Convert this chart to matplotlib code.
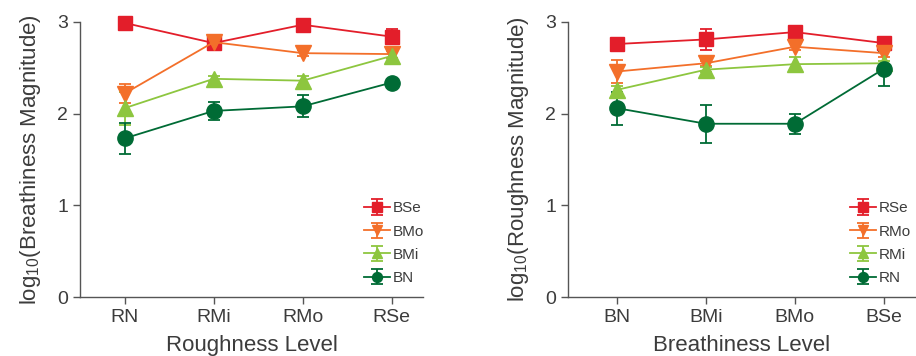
import matplotlib
matplotlib.use("Agg")
import matplotlib.pyplot as plt

plt.rcParams["font.family"] = ["Liberation Sans", "DejaVu Sans"]
plt.rcParams["mathtext.fontset"] = "custom"
plt.rcParams["mathtext.rm"] = "Liberation Sans"
plt.rcParams["mathtext.it"] = "Liberation Sans"
plt.rcParams["mathtext.default"] = "regular"

# Left panel: breathiness magnitude vs roughness level
left_cats = ["RN", "RMi", "RMo", "RSe"]
left_series = ["BSe", "BMo", "BMi", "BN"]
left_vals = {
    "BSe": [2.99, 2.77, 2.97, 2.84],
    "BMo": [2.22, 2.78, 2.66, 2.65],
    "BMi": [2.06, 2.38, 2.36, 2.63],
    "BN":  [1.73, 2.03, 2.08, 2.34],
}
left_errs = {
    "BSe": [0.04, 0.05, 0.04, 0.08],
    "BMo": [0.10, 0.06, 0.03, 0.04],
    "BMi": [0.18, 0.03, 0.05, 0.05],
    "BN":  [0.17, 0.10, 0.12, 0.02],
}

# Right panel: roughness magnitude vs breathiness level
right_cats = ["BN", "BMi", "BMo", "BSe"]
right_series = ["RSe", "RMo", "RMi", "RN"]
right_vals = {
    "RSe": [2.76, 2.81, 2.89, 2.77],
    "RMo": [2.46, 2.55, 2.73, 2.66],
    "RMi": [2.26, 2.48, 2.54, 2.55],
    "RN":  [2.06, 1.89, 1.89, 2.49],
}
right_errs = {
    "RSe": [0.02, 0.11, 0.03, 0.04],
    "RMo": [0.13, 0.03, 0.04, 0.04],
    "RMi": [0.04, 0.03, 0.08, 0.02],
    "RN":  [0.18, 0.21, 0.11, 0.19],
}

colors = ["#e31e2a", "#f36f2a", "#8dc63f", "#006b35"]
markers = ["s", "v", "^", "o"]
msizes = [10, 12, 12, 11]
yticks = [0, 1, 2, 3]
text_color = "#3c3c3c"
spine_color = "#555555"

fig = plt.figure(figsize=(9.16, 3.56), dpi=100)
ax1 = fig.add_axes([80/916, 1-297/356, 343/916, 275/356])
ax2 = fig.add_axes([568/916, 1-297/356, 347/916, 275/356])

def draw(ax, cats, series, vals, errs, xlabel, ylabel, xlim, leg_anchor):
    x = list(range(len(cats)))
    for i, s in enumerate(series):
        cont = ax.errorbar(x, vals[s], yerr=errs[s], color=colors[i], marker=markers[i],
                           markersize=msizes[i], linewidth=1.3, elinewidth=1.3,
                           capsize=4, capthick=1.3, label=s)
        for artist in cont.get_children():
            artist.set_clip_on(False)
    ax.set_xlim(*xlim)
    ax.set_ylim(0, 3)
    ax.set_xticks(x)
    ax.set_xticklabels(cats)
    ax.set_yticks(yticks)
    ax.set_yticklabels([str(t) for t in yticks])
    for sp in ["top", "right"]:
        ax.spines[sp].set_visible(False)
    for sp in ["left", "bottom"]:
        ax.spines[sp].set_color(spine_color)
        ax.spines[sp].set_linewidth(1.0)
    ax.tick_params(axis="both", colors=spine_color, labelcolor=text_color,
                   labelsize=14, length=5, width=1.0, direction="out")
    ax.tick_params(axis="x", pad=4)
    ax.set_xlabel(xlabel, fontsize=16, color=text_color, labelpad=6)
    ax.set_ylabel(ylabel, fontsize=16, color=text_color, labelpad=10)
    leg = ax.legend(loc="upper left", bbox_to_anchor=leg_anchor, frameon=False,
                    fontsize=11, markerscale=0.65, handlelength=1.7,
                    handletextpad=0.2, labelspacing=0.6, borderaxespad=0)
    for t in leg.get_texts():
        t.set_color(text_color)

draw(ax1, left_cats, left_series, left_vals, left_errs, "Roughness Level",
     r"log$_{10}$(Breathiness Magnitude)", (-0.5, 3.35), (0.81, 0.37))
draw(ax2, right_cats, right_series, right_vals, right_errs, "Breathiness Level",
     r"log$_{10}$(Roughness Magnitude)", (-0.55, 3.35), (0.795, 0.37))

fig.savefig("out.png", dpi=100)
